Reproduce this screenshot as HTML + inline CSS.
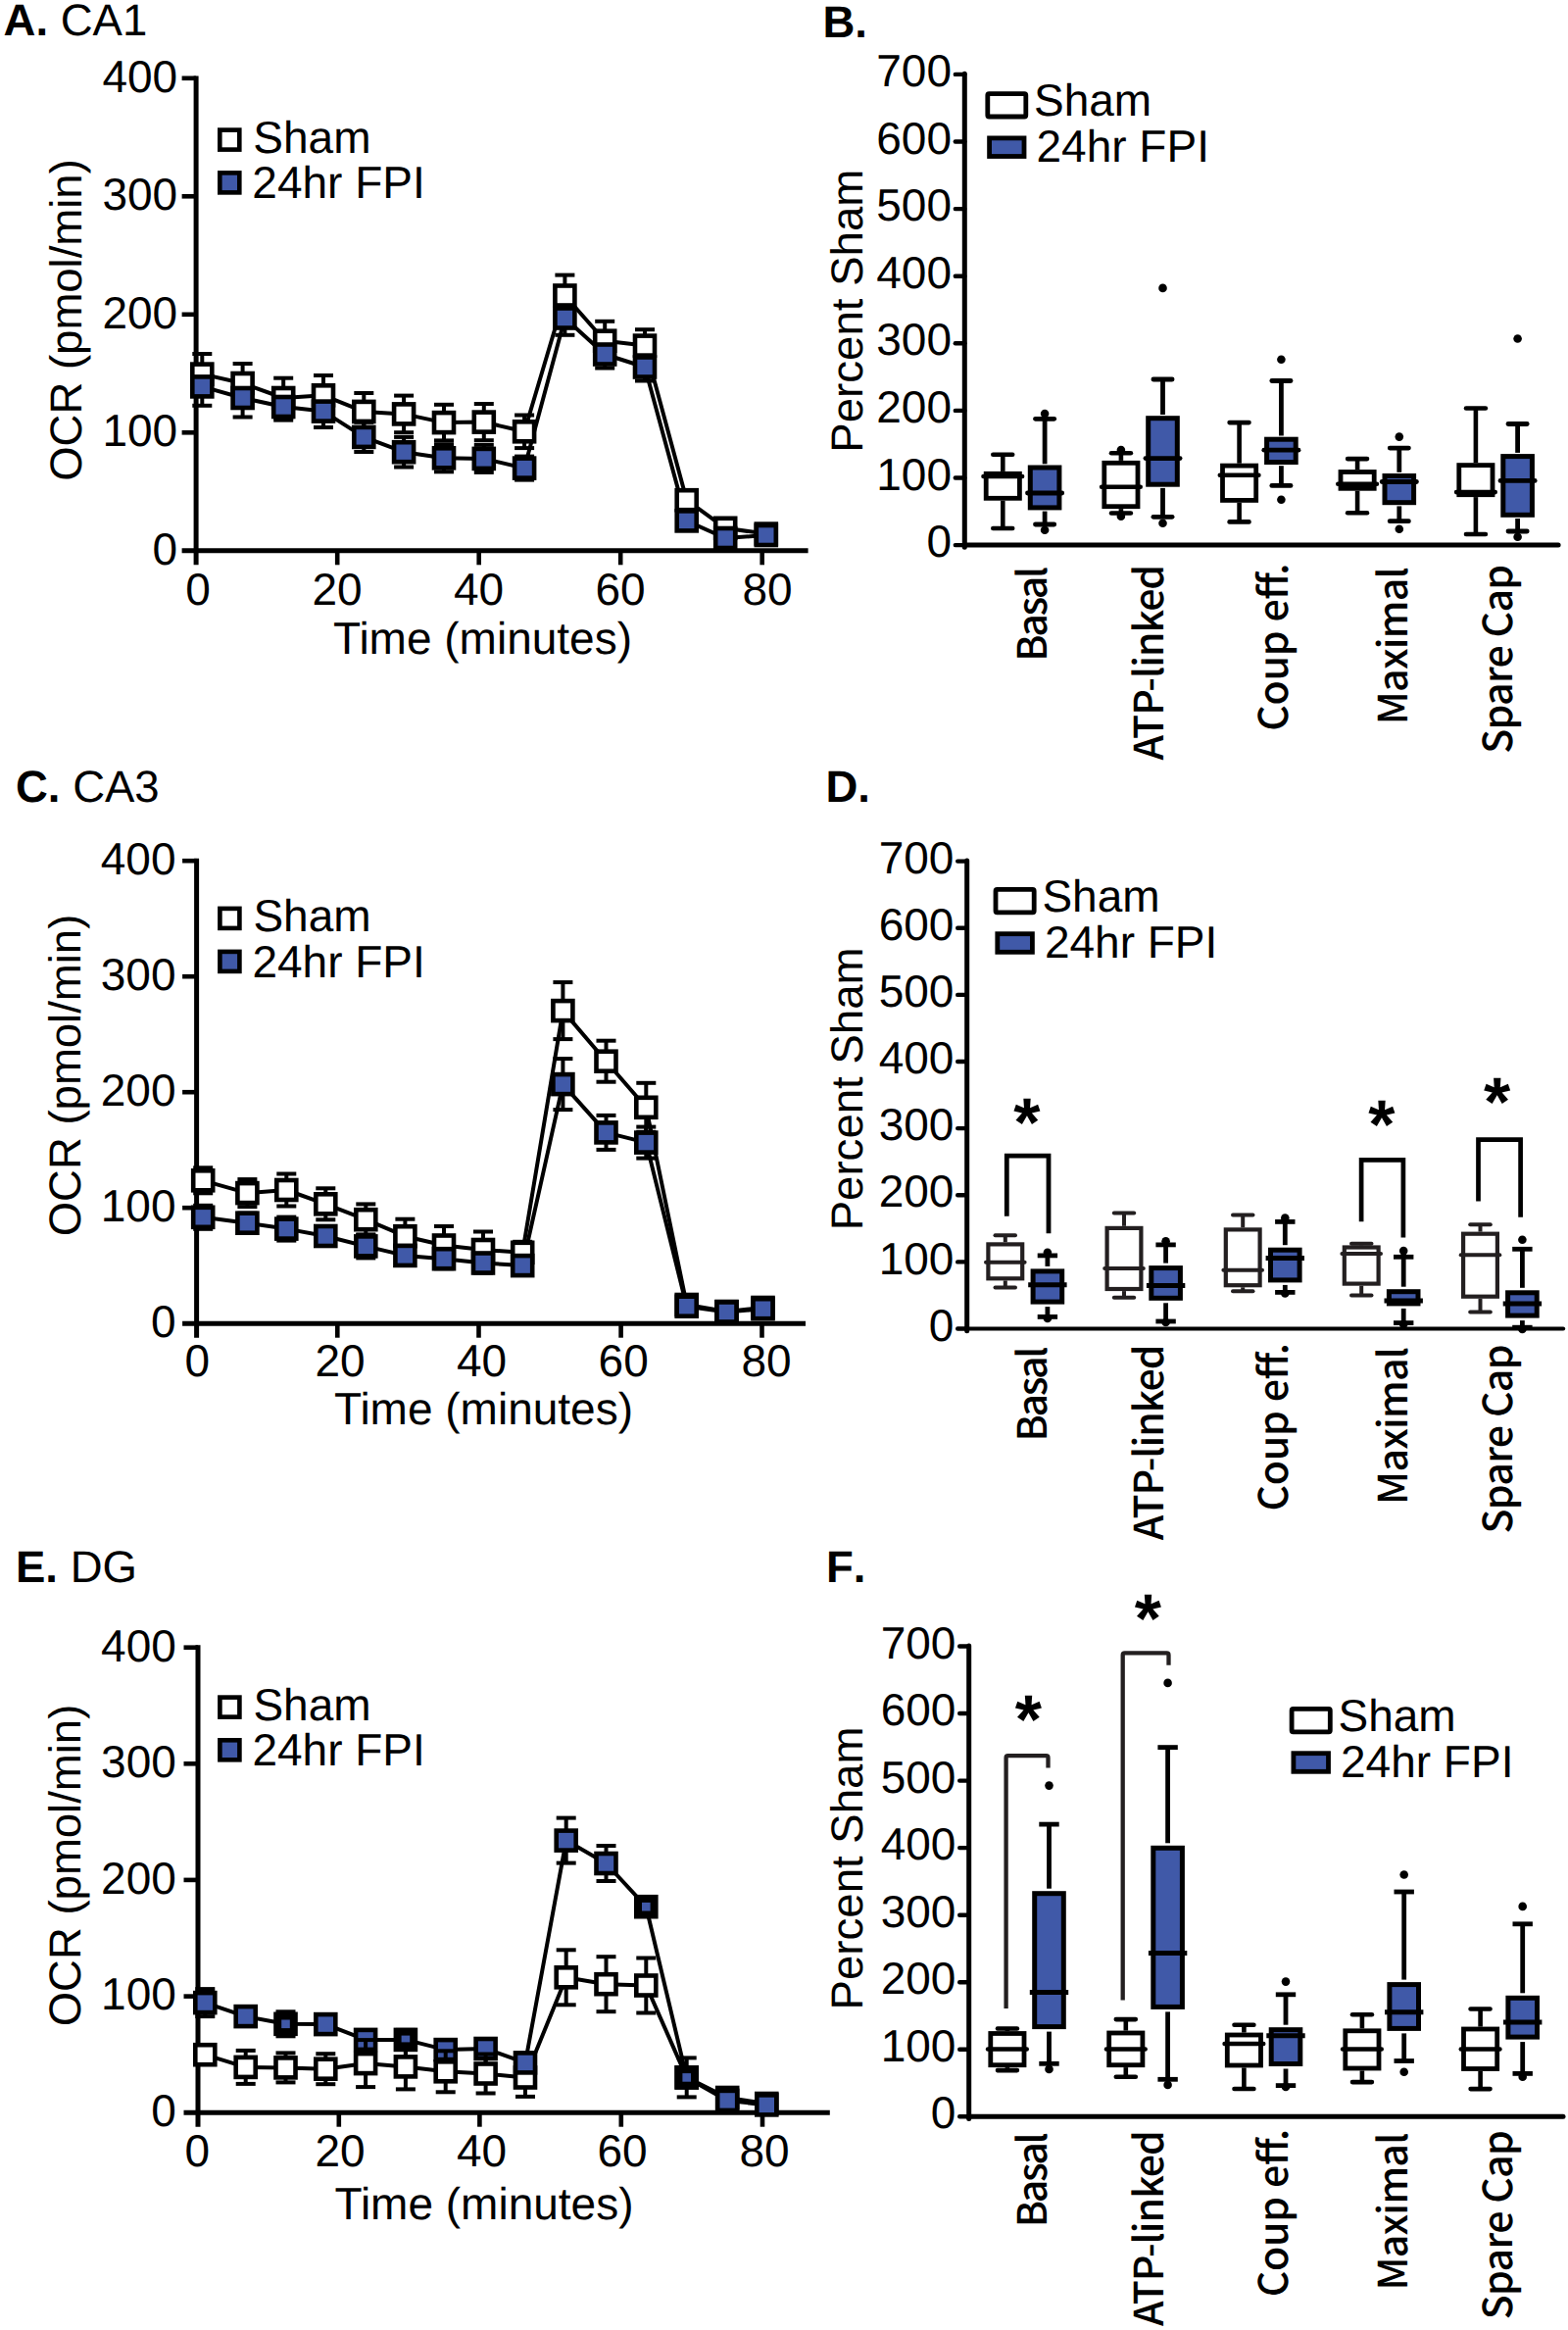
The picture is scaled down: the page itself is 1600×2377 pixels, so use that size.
<!DOCTYPE html>
<html lang="en">
<head>
<meta charset="utf-8">
<title>Figure: OCR time courses and percent-sham box plots for CA1, CA3 and DG</title>
<style>
html,body{margin:0;padding:0;background:#fff;}
svg{display:block;}
svg text{font-family:"Liberation Sans", sans-serif;fill:#000;text-rendering:geometricPrecision;}
svg text.lab{font-family:"Noto Sans CJK JP","Noto Sans CJK SC","Liberation Sans",sans-serif;font-weight:500;}
</style>
</head>
<body>
<svg width="1600" height="2377" viewBox="0 0 1600 2377" stroke="#000" fill="#000">
<rect x="0" y="0" width="1600" height="2377" fill="#fff" stroke="none"/>
<g stroke="#000">
<g id="panelA">
<text stroke="none" x="3.6" y="36.2" font-size="45.5"><tspan font-weight="bold">A.</tspan> CA1</text>
<text stroke="none" x="83.0" y="326.5" font-size="45.5" text-anchor="middle" transform="rotate(-90 83.0 326.5)">OCR (pmol/min)</text>
<text stroke="none" x="181.2" y="575.6" font-size="46" text-anchor="end">0</text>
<text stroke="none" x="181.2" y="455.1" font-size="46" text-anchor="end">100</text>
<text stroke="none" x="181.2" y="334.6" font-size="46" text-anchor="end">200</text>
<text stroke="none" x="181.2" y="214.1" font-size="46" text-anchor="end">300</text>
<text stroke="none" x="181.2" y="93.6" font-size="46" text-anchor="end">400</text>
<text stroke="none" x="202.1" y="617.1" font-size="46" text-anchor="middle">0</text>
<text stroke="none" x="344.0" y="617.1" font-size="46" text-anchor="middle">20</text>
<text stroke="none" x="488.6" y="617.1" font-size="46" text-anchor="middle">40</text>
<text stroke="none" x="633.1" y="617.1" font-size="46" text-anchor="middle">60</text>
<text stroke="none" x="783.1" y="617.1" font-size="46" text-anchor="middle">80</text>
<text stroke="none" x="492.5" y="667.4" font-size="46" text-anchor="middle">Time (minutes)</text>
<rect x="224.3" y="132.6" width="20" height="20" fill="#fff" stroke-width="4.6"/>
<text stroke="none" x="258.3" y="155.9" font-size="46">Sham</text>
<rect x="224.3" y="176.4" width="20" height="20" fill="#4059a8" stroke-width="4.6"/>
<text stroke="none" x="257.3" y="202.4" font-size="46">24hr FPI</text>
<line x1="200.1" y1="77.4" x2="200.1" y2="576.3" stroke-width="5"/>
<line x1="185.6" y1="441.3" x2="200.1" y2="441.3" stroke-width="4.6"/>
<line x1="185.6" y1="320.8" x2="200.1" y2="320.8" stroke-width="4.6"/>
<line x1="185.6" y1="200.3" x2="200.1" y2="200.3" stroke-width="4.6"/>
<line x1="185.6" y1="79.8" x2="200.1" y2="79.8" stroke-width="4.6"/>
<line x1="185.6" y1="561.8" x2="824.6" y2="561.8" stroke-width="5"/>
<line x1="344.2" y1="561.8" x2="344.2" y2="576.3" stroke-width="4.6"/>
<line x1="488.7" y1="561.8" x2="488.7" y2="576.3" stroke-width="4.6"/>
<line x1="633.2" y1="561.8" x2="633.2" y2="576.3" stroke-width="4.6"/>
<line x1="777.7" y1="561.8" x2="777.7" y2="576.3" stroke-width="4.6"/>
<line x1="206.3" y1="361.0" x2="206.3" y2="402.2" stroke-width="4"/>
<line x1="196.3" y1="361.0" x2="216.3" y2="361.0" stroke-width="4"/>
<line x1="196.3" y1="402.2" x2="216.3" y2="402.2" stroke-width="4"/>
<line x1="247.6" y1="371.0" x2="247.6" y2="411.0" stroke-width="4"/>
<line x1="237.6" y1="371.0" x2="257.6" y2="371.0" stroke-width="4"/>
<line x1="237.6" y1="411.0" x2="257.6" y2="411.0" stroke-width="4"/>
<line x1="289.2" y1="385.7" x2="289.2" y2="426.3" stroke-width="4"/>
<line x1="279.2" y1="385.7" x2="299.2" y2="385.7" stroke-width="4"/>
<line x1="279.2" y1="426.3" x2="299.2" y2="426.3" stroke-width="4"/>
<line x1="330.0" y1="383.0" x2="330.0" y2="423.6" stroke-width="4"/>
<line x1="320.0" y1="383.0" x2="340.0" y2="383.0" stroke-width="4"/>
<line x1="320.0" y1="423.6" x2="340.0" y2="423.6" stroke-width="4"/>
<line x1="371.3" y1="401.0" x2="371.3" y2="438.8" stroke-width="4"/>
<line x1="361.3" y1="401.0" x2="381.3" y2="401.0" stroke-width="4"/>
<line x1="361.3" y1="438.8" x2="381.3" y2="438.8" stroke-width="4"/>
<line x1="412.1" y1="403.6" x2="412.1" y2="441.2" stroke-width="4"/>
<line x1="402.1" y1="403.6" x2="422.1" y2="403.6" stroke-width="4"/>
<line x1="402.1" y1="441.2" x2="422.1" y2="441.2" stroke-width="4"/>
<line x1="453.0" y1="412.8" x2="453.0" y2="449.4" stroke-width="4"/>
<line x1="443.0" y1="412.8" x2="463.0" y2="412.8" stroke-width="4"/>
<line x1="443.0" y1="449.4" x2="463.0" y2="449.4" stroke-width="4"/>
<line x1="493.8" y1="412.0" x2="493.8" y2="449.2" stroke-width="4"/>
<line x1="483.8" y1="412.0" x2="503.8" y2="412.0" stroke-width="4"/>
<line x1="483.8" y1="449.2" x2="503.8" y2="449.2" stroke-width="4"/>
<line x1="535.1" y1="423.5" x2="535.1" y2="457.1" stroke-width="4"/>
<line x1="525.1" y1="423.5" x2="545.1" y2="423.5" stroke-width="4"/>
<line x1="525.1" y1="457.1" x2="545.1" y2="457.1" stroke-width="4"/>
<line x1="576.4" y1="280.6" x2="576.4" y2="322.4" stroke-width="4"/>
<line x1="566.4" y1="280.6" x2="586.4" y2="280.6" stroke-width="4"/>
<line x1="566.4" y1="322.4" x2="586.4" y2="322.4" stroke-width="4"/>
<line x1="617.2" y1="327.8" x2="617.2" y2="367.6" stroke-width="4"/>
<line x1="607.2" y1="327.8" x2="627.2" y2="327.8" stroke-width="4"/>
<line x1="607.2" y1="367.6" x2="627.2" y2="367.6" stroke-width="4"/>
<line x1="658.0" y1="336.2" x2="658.0" y2="369.0" stroke-width="4"/>
<line x1="648.0" y1="336.2" x2="668.0" y2="336.2" stroke-width="4"/>
<line x1="648.0" y1="369.0" x2="668.0" y2="369.0" stroke-width="4"/>
<line x1="700.7" y1="502.2" x2="700.7" y2="518.2" stroke-width="4"/>
<line x1="690.7" y1="502.2" x2="710.7" y2="502.2" stroke-width="4"/>
<line x1="690.7" y1="518.2" x2="710.7" y2="518.2" stroke-width="4"/>
<line x1="740.2" y1="530.8" x2="740.2" y2="546.8" stroke-width="4"/>
<line x1="730.2" y1="530.8" x2="750.2" y2="530.8" stroke-width="4"/>
<line x1="730.2" y1="546.8" x2="750.2" y2="546.8" stroke-width="4"/>
<line x1="781.8" y1="538.6" x2="781.8" y2="550.6" stroke-width="4"/>
<line x1="771.8" y1="538.6" x2="791.8" y2="538.6" stroke-width="4"/>
<line x1="771.8" y1="550.6" x2="791.8" y2="550.6" stroke-width="4"/>
<line x1="206.3" y1="375.0" x2="206.3" y2="413.8" stroke-width="4"/>
<line x1="196.3" y1="375.0" x2="216.3" y2="375.0" stroke-width="4"/>
<line x1="196.3" y1="413.8" x2="216.3" y2="413.8" stroke-width="4"/>
<line x1="247.6" y1="386.5" x2="247.6" y2="425.5" stroke-width="4"/>
<line x1="237.6" y1="386.5" x2="257.6" y2="386.5" stroke-width="4"/>
<line x1="237.6" y1="425.5" x2="257.6" y2="425.5" stroke-width="4"/>
<line x1="289.2" y1="401.4" x2="289.2" y2="428.6" stroke-width="4"/>
<line x1="279.2" y1="401.4" x2="299.2" y2="401.4" stroke-width="4"/>
<line x1="279.2" y1="428.6" x2="299.2" y2="428.6" stroke-width="4"/>
<line x1="330.0" y1="403.2" x2="330.0" y2="436.0" stroke-width="4"/>
<line x1="320.0" y1="403.2" x2="340.0" y2="403.2" stroke-width="4"/>
<line x1="320.0" y1="436.0" x2="340.0" y2="436.0" stroke-width="4"/>
<line x1="371.3" y1="430.8" x2="371.3" y2="461.0" stroke-width="4"/>
<line x1="361.3" y1="430.8" x2="381.3" y2="430.8" stroke-width="4"/>
<line x1="361.3" y1="461.0" x2="381.3" y2="461.0" stroke-width="4"/>
<line x1="412.1" y1="445.9" x2="412.1" y2="476.5" stroke-width="4"/>
<line x1="402.1" y1="445.9" x2="422.1" y2="445.9" stroke-width="4"/>
<line x1="402.1" y1="476.5" x2="422.1" y2="476.5" stroke-width="4"/>
<line x1="453.0" y1="453.3" x2="453.0" y2="481.3" stroke-width="4"/>
<line x1="443.0" y1="453.3" x2="463.0" y2="453.3" stroke-width="4"/>
<line x1="443.0" y1="481.3" x2="463.0" y2="481.3" stroke-width="4"/>
<line x1="493.8" y1="453.9" x2="493.8" y2="481.9" stroke-width="4"/>
<line x1="483.8" y1="453.9" x2="503.8" y2="453.9" stroke-width="4"/>
<line x1="483.8" y1="481.9" x2="503.8" y2="481.9" stroke-width="4"/>
<line x1="535.1" y1="465.6" x2="535.1" y2="489.6" stroke-width="4"/>
<line x1="525.1" y1="465.6" x2="545.1" y2="465.6" stroke-width="4"/>
<line x1="525.1" y1="489.6" x2="545.1" y2="489.6" stroke-width="4"/>
<line x1="576.4" y1="307.2" x2="576.4" y2="341.8" stroke-width="4"/>
<line x1="566.4" y1="307.2" x2="586.4" y2="307.2" stroke-width="4"/>
<line x1="566.4" y1="341.8" x2="586.4" y2="341.8" stroke-width="4"/>
<line x1="617.2" y1="347.5" x2="617.2" y2="375.5" stroke-width="4"/>
<line x1="607.2" y1="347.5" x2="627.2" y2="347.5" stroke-width="4"/>
<line x1="607.2" y1="375.5" x2="627.2" y2="375.5" stroke-width="4"/>
<line x1="658.0" y1="360.5" x2="658.0" y2="388.5" stroke-width="4"/>
<line x1="648.0" y1="360.5" x2="668.0" y2="360.5" stroke-width="4"/>
<line x1="648.0" y1="388.5" x2="668.0" y2="388.5" stroke-width="4"/>
<line x1="700.7" y1="523.4" x2="700.7" y2="539.4" stroke-width="4"/>
<line x1="690.7" y1="523.4" x2="710.7" y2="523.4" stroke-width="4"/>
<line x1="690.7" y1="539.4" x2="710.7" y2="539.4" stroke-width="4"/>
<line x1="740.2" y1="543.0" x2="740.2" y2="555.0" stroke-width="4"/>
<line x1="730.2" y1="543.0" x2="750.2" y2="543.0" stroke-width="4"/>
<line x1="730.2" y1="555.0" x2="750.2" y2="555.0" stroke-width="4"/>
<line x1="781.8" y1="540.0" x2="781.8" y2="552.0" stroke-width="4"/>
<line x1="771.8" y1="540.0" x2="791.8" y2="540.0" stroke-width="4"/>
<line x1="771.8" y1="552.0" x2="791.8" y2="552.0" stroke-width="4"/>
<polyline points="206.3,381.6 247.6,391.0 289.2,406.0 330.0,403.3 371.3,419.9 412.1,422.4 453.0,431.1 493.8,430.6 535.1,440.3 576.4,301.5 617.2,347.7 658.0,352.6 700.7,510.2 740.2,538.8 781.8,544.6" fill="none" stroke-width="4" stroke-linejoin="round"/>
<polyline points="206.3,394.4 247.6,406.0 289.2,415.0 330.0,419.6 371.3,445.9 412.1,461.2 453.0,467.3 493.8,467.9 535.1,477.6 576.4,324.5 617.2,361.5 658.0,374.5 700.7,531.4 740.2,549.0 781.8,546.0" fill="none" stroke-width="4" stroke-linejoin="round"/>
<rect x="196.3" y="371.6" width="20" height="20" fill="#fff" stroke-width="4.6"/>
<rect x="237.6" y="381.0" width="20" height="20" fill="#fff" stroke-width="4.6"/>
<rect x="279.2" y="396.0" width="20" height="20" fill="#fff" stroke-width="4.6"/>
<rect x="320.0" y="393.3" width="20" height="20" fill="#fff" stroke-width="4.6"/>
<rect x="361.3" y="409.9" width="20" height="20" fill="#fff" stroke-width="4.6"/>
<rect x="402.1" y="412.4" width="20" height="20" fill="#fff" stroke-width="4.6"/>
<rect x="443.0" y="421.1" width="20" height="20" fill="#fff" stroke-width="4.6"/>
<rect x="483.8" y="420.6" width="20" height="20" fill="#fff" stroke-width="4.6"/>
<rect x="525.1" y="430.3" width="20" height="20" fill="#fff" stroke-width="4.6"/>
<rect x="566.4" y="291.5" width="20" height="20" fill="#fff" stroke-width="4.6"/>
<rect x="607.2" y="337.7" width="20" height="20" fill="#fff" stroke-width="4.6"/>
<rect x="648.0" y="342.6" width="20" height="20" fill="#fff" stroke-width="4.6"/>
<rect x="690.7" y="500.2" width="20" height="20" fill="#fff" stroke-width="4.6"/>
<rect x="730.2" y="528.8" width="20" height="20" fill="#fff" stroke-width="4.6"/>
<rect x="771.8" y="534.6" width="20" height="20" fill="#fff" stroke-width="4.6"/>
<rect x="196.3" y="384.4" width="20" height="20" fill="#4059a8" stroke-width="4.6"/>
<rect x="237.6" y="396.0" width="20" height="20" fill="#4059a8" stroke-width="4.6"/>
<rect x="279.2" y="405.0" width="20" height="20" fill="#4059a8" stroke-width="4.6"/>
<rect x="320.0" y="409.6" width="20" height="20" fill="#4059a8" stroke-width="4.6"/>
<rect x="361.3" y="435.9" width="20" height="20" fill="#4059a8" stroke-width="4.6"/>
<rect x="402.1" y="451.2" width="20" height="20" fill="#4059a8" stroke-width="4.6"/>
<rect x="443.0" y="457.3" width="20" height="20" fill="#4059a8" stroke-width="4.6"/>
<rect x="483.8" y="457.9" width="20" height="20" fill="#4059a8" stroke-width="4.6"/>
<rect x="525.1" y="467.6" width="20" height="20" fill="#4059a8" stroke-width="4.6"/>
<rect x="566.4" y="314.5" width="20" height="20" fill="#4059a8" stroke-width="4.6"/>
<rect x="607.2" y="351.5" width="20" height="20" fill="#4059a8" stroke-width="4.6"/>
<rect x="648.0" y="364.5" width="20" height="20" fill="#4059a8" stroke-width="4.6"/>
<rect x="690.7" y="521.4" width="20" height="20" fill="#4059a8" stroke-width="4.6"/>
<rect x="730.2" y="539.0" width="20" height="20" fill="#4059a8" stroke-width="4.6"/>
<rect x="771.8" y="536.0" width="20" height="20" fill="#4059a8" stroke-width="4.6"/>
</g>
<g id="panelB">
<text stroke="none" x="839.5" y="37.6" font-size="45.5" font-weight="bold" style="font-kerning:none">B.</text>
<text stroke="none" x="879.7" y="317.2" font-size="45.6" text-anchor="middle" transform="rotate(-90 879.7 317.2)">Percent Sham</text>
<text stroke="none" x="971.0" y="568.2" font-size="46" text-anchor="end">0</text>
<text stroke="none" x="971.0" y="499.6" font-size="46" text-anchor="end">100</text>
<text stroke="none" x="971.0" y="431.0" font-size="46" text-anchor="end">200</text>
<text stroke="none" x="971.0" y="362.4" font-size="46" text-anchor="end">300</text>
<text stroke="none" x="971.0" y="293.8" font-size="46" text-anchor="end">400</text>
<text stroke="none" x="971.0" y="225.2" font-size="46" text-anchor="end">500</text>
<text stroke="none" x="971.0" y="156.6" font-size="46" text-anchor="end">600</text>
<text stroke="none" x="971.0" y="88.0" font-size="46" text-anchor="end">700</text>
<text stroke="none" x="1068.2" y="674.8" font-size="41" class="lab" transform="rotate(-90 1068.2 674.8)" textLength="97.0" lengthAdjust="spacing">Basal</text>
<text stroke="none" x="1186.8" y="775.6" font-size="41" class="lab" transform="rotate(-90 1186.8 775.6)" textLength="199.8" lengthAdjust="spacing">ATP-linked</text>
<text stroke="none" x="1314.2" y="745.8" font-size="41" class="lab" transform="rotate(-90 1314.2 745.8)" textLength="171.4" lengthAdjust="spacing">Coup eff.</text>
<text stroke="none" x="1436.2" y="739.2" font-size="41" class="lab" transform="rotate(-90 1436.2 739.2)" textLength="161.0" lengthAdjust="spacing">Maximal</text>
<text stroke="none" x="1543.2" y="768.8" font-size="41" class="lab" transform="rotate(-90 1543.2 768.8)" textLength="193.0" lengthAdjust="spacing">Spare Cap</text>
<rect x="1007.8" y="95.6" width="39.0" height="23.4" rx="1.5" fill="#fff" stroke-width="4.8"/>
<text stroke="none" x="1055.0" y="117.8" font-size="46">Sham</text>
<rect x="1009.6" y="140.9" width="35.4" height="18.6" fill="#4059a8" stroke-width="4.8"/>
<text stroke="none" x="1057.5" y="165.2" font-size="46">24hr FPI</text>
<line x1="1023.3" y1="463.8" x2="1023.3" y2="480.9" stroke-width="4.6"/>
<line x1="1023.3" y1="510.7" x2="1023.3" y2="539.0" stroke-width="4.6"/>
<line x1="1013.3" y1="463.8" x2="1033.2" y2="463.8" stroke-width="4.6" stroke-linecap="round"/>
<line x1="1013.3" y1="539.0" x2="1033.2" y2="539.0" stroke-width="4.6" stroke-linecap="round"/>
<rect x="1006.2" y="483.3" width="34.2" height="25.0" fill="#fff" stroke-width="4.8"/>
<line x1="1003.5" y1="486.0" x2="1043.1" y2="486.0" stroke-width="4.6" stroke-linecap="round"/>
<line x1="1066.1" y1="427.3" x2="1066.1" y2="473.3" stroke-width="4.8"/>
<line x1="1066.1" y1="521.6" x2="1066.1" y2="535.0" stroke-width="4.8"/>
<line x1="1056.5" y1="427.3" x2="1075.7" y2="427.3" stroke-width="4.8" stroke-linecap="round"/>
<line x1="1056.5" y1="535.0" x2="1075.7" y2="535.0" stroke-width="4.8" stroke-linecap="round"/>
<rect x="1051.3" y="477.0" width="29.6" height="40.9" fill="#4059a8" stroke-width="5.0"/>
<line x1="1048.5" y1="503.0" x2="1083.7" y2="503.0" stroke-width="4.8" stroke-linecap="round"/>
<circle cx="1066.1" cy="422.0" r="4.3" fill="#000" stroke="none"/>
<circle cx="1066.1" cy="540.8" r="4.3" fill="#000" stroke="none"/>
<line x1="1143.9" y1="462.2" x2="1143.9" y2="469.9" stroke-width="4.6"/>
<line x1="1143.9" y1="519.1" x2="1143.9" y2="523.5" stroke-width="4.6"/>
<line x1="1134.0" y1="462.2" x2="1153.9" y2="462.2" stroke-width="4.6" stroke-linecap="round"/>
<line x1="1134.0" y1="523.5" x2="1153.9" y2="523.5" stroke-width="4.6" stroke-linecap="round"/>
<rect x="1126.8" y="472.3" width="34.2" height="44.4" fill="#fff" stroke-width="4.8"/>
<line x1="1124.1" y1="496.7" x2="1163.7" y2="496.7" stroke-width="4.6" stroke-linecap="round"/>
<circle cx="1143.9" cy="459.0" r="4.3" fill="#000" stroke="none"/>
<circle cx="1143.9" cy="526.8" r="4.3" fill="#000" stroke="none"/>
<line x1="1186.5" y1="387.0" x2="1186.5" y2="423.0" stroke-width="4.8"/>
<line x1="1186.5" y1="497.9" x2="1186.5" y2="527.3" stroke-width="4.8"/>
<line x1="1176.9" y1="387.0" x2="1196.1" y2="387.0" stroke-width="4.8" stroke-linecap="round"/>
<line x1="1176.9" y1="527.3" x2="1196.1" y2="527.3" stroke-width="4.8" stroke-linecap="round"/>
<rect x="1171.7" y="426.7" width="29.6" height="67.5" fill="#4059a8" stroke-width="5.0"/>
<line x1="1168.9" y1="467.6" x2="1204.1" y2="467.6" stroke-width="4.8" stroke-linecap="round"/>
<circle cx="1186.5" cy="293.9" r="4.3" fill="#000" stroke="none"/>
<circle cx="1186.5" cy="533.7" r="4.3" fill="#000" stroke="none"/>
<line x1="1264.6" y1="431.1" x2="1264.6" y2="472.7" stroke-width="4.6"/>
<line x1="1264.6" y1="512.8" x2="1264.6" y2="532.4" stroke-width="4.6"/>
<line x1="1254.6" y1="431.1" x2="1274.5" y2="431.1" stroke-width="4.6" stroke-linecap="round"/>
<line x1="1254.6" y1="532.4" x2="1274.5" y2="532.4" stroke-width="4.6" stroke-linecap="round"/>
<rect x="1247.5" y="475.1" width="34.2" height="35.3" fill="#fff" stroke-width="4.8"/>
<line x1="1244.8" y1="484.7" x2="1284.4" y2="484.7" stroke-width="4.6" stroke-linecap="round"/>
<line x1="1307.4" y1="388.5" x2="1307.4" y2="444.5" stroke-width="4.8"/>
<line x1="1307.4" y1="475.2" x2="1307.4" y2="495.4" stroke-width="4.8"/>
<line x1="1297.8" y1="388.5" x2="1317.0" y2="388.5" stroke-width="4.8" stroke-linecap="round"/>
<line x1="1297.8" y1="495.4" x2="1317.0" y2="495.4" stroke-width="4.8" stroke-linecap="round"/>
<rect x="1292.6" y="448.2" width="29.6" height="23.3" fill="#4059a8" stroke-width="5.0"/>
<line x1="1289.8" y1="459.2" x2="1325.0" y2="459.2" stroke-width="4.8" stroke-linecap="round"/>
<circle cx="1307.4" cy="366.8" r="4.3" fill="#000" stroke="none"/>
<circle cx="1307.4" cy="509.7" r="4.3" fill="#000" stroke="none"/>
<line x1="1385.1" y1="468.1" x2="1385.1" y2="479.1" stroke-width="4.6"/>
<line x1="1385.1" y1="500.7" x2="1385.1" y2="523.2" stroke-width="4.6"/>
<line x1="1375.1" y1="468.1" x2="1395.0" y2="468.1" stroke-width="4.6" stroke-linecap="round"/>
<line x1="1375.1" y1="523.2" x2="1395.0" y2="523.2" stroke-width="4.6" stroke-linecap="round"/>
<rect x="1368.0" y="481.5" width="34.2" height="16.8" fill="#fff" stroke-width="4.8"/>
<line x1="1365.3" y1="493.8" x2="1404.9" y2="493.8" stroke-width="4.6" stroke-linecap="round"/>
<line x1="1427.8" y1="457.1" x2="1427.8" y2="481.8" stroke-width="4.8"/>
<line x1="1427.8" y1="516.4" x2="1427.8" y2="531.7" stroke-width="4.8"/>
<line x1="1418.2" y1="457.1" x2="1437.4" y2="457.1" stroke-width="4.8" stroke-linecap="round"/>
<line x1="1418.2" y1="531.7" x2="1437.4" y2="531.7" stroke-width="4.8" stroke-linecap="round"/>
<rect x="1413.0" y="485.5" width="29.6" height="27.2" fill="#4059a8" stroke-width="5.0"/>
<line x1="1410.2" y1="491.5" x2="1445.4" y2="491.5" stroke-width="4.8" stroke-linecap="round"/>
<circle cx="1427.8" cy="445.6" r="4.3" fill="#000" stroke="none"/>
<circle cx="1427.8" cy="539.7" r="4.3" fill="#000" stroke="none"/>
<line x1="1505.9" y1="416.5" x2="1505.9" y2="472.2" stroke-width="4.6"/>
<line x1="1505.9" y1="507.1" x2="1505.9" y2="545.0" stroke-width="4.6"/>
<line x1="1496.0" y1="416.5" x2="1515.9" y2="416.5" stroke-width="4.6" stroke-linecap="round"/>
<line x1="1496.0" y1="545.0" x2="1515.9" y2="545.0" stroke-width="4.6" stroke-linecap="round"/>
<rect x="1488.8" y="474.6" width="34.2" height="30.1" fill="#fff" stroke-width="4.8"/>
<line x1="1486.1" y1="502.1" x2="1525.7" y2="502.1" stroke-width="4.6" stroke-linecap="round"/>
<line x1="1548.6" y1="432.5" x2="1548.6" y2="461.9" stroke-width="4.8"/>
<line x1="1548.6" y1="529.0" x2="1548.6" y2="542.0" stroke-width="4.8"/>
<line x1="1539.0" y1="432.5" x2="1558.2" y2="432.5" stroke-width="4.8" stroke-linecap="round"/>
<line x1="1539.0" y1="542.0" x2="1558.2" y2="542.0" stroke-width="4.8" stroke-linecap="round"/>
<rect x="1533.8" y="465.6" width="29.6" height="59.7" fill="#4059a8" stroke-width="5.0"/>
<line x1="1531.0" y1="490.4" x2="1566.2" y2="490.4" stroke-width="4.8" stroke-linecap="round"/>
<circle cx="1548.6" cy="345.5" r="4.3" fill="#000" stroke="none"/>
<circle cx="1548.6" cy="547.8" r="4.3" fill="#000" stroke="none"/>
<line x1="984.3" y1="75.3" x2="984.3" y2="558.3" stroke-width="5" stroke-linecap="round"/>
<line x1="974.8" y1="556.1" x2="984.3" y2="556.1" stroke-width="4.4" stroke-linecap="round"/>
<line x1="974.8" y1="487.5" x2="984.3" y2="487.5" stroke-width="4.4" stroke-linecap="round"/>
<line x1="974.8" y1="418.9" x2="984.3" y2="418.9" stroke-width="4.4" stroke-linecap="round"/>
<line x1="974.8" y1="350.3" x2="984.3" y2="350.3" stroke-width="4.4" stroke-linecap="round"/>
<line x1="974.8" y1="281.7" x2="984.3" y2="281.7" stroke-width="4.4" stroke-linecap="round"/>
<line x1="974.8" y1="213.1" x2="984.3" y2="213.1" stroke-width="4.4" stroke-linecap="round"/>
<line x1="974.8" y1="144.5" x2="984.3" y2="144.5" stroke-width="4.4" stroke-linecap="round"/>
<line x1="974.8" y1="75.9" x2="984.3" y2="75.9" stroke-width="4.4" stroke-linecap="round"/>
<line x1="983.3" y1="556.1" x2="1590.1" y2="556.1" stroke-width="5" stroke-linecap="round"/>
</g>
<g id="panelC">
<text stroke="none" x="16.0" y="818.0" font-size="45.5"><tspan font-weight="bold">C.</tspan> CA3</text>
<text stroke="none" x="81.7" y="1097.0" font-size="45.5" text-anchor="middle" transform="rotate(-90 81.7 1097.0)">OCR (pmol/min)</text>
<text stroke="none" x="179.5" y="1363.8" font-size="46" text-anchor="end">0</text>
<text stroke="none" x="179.5" y="1245.8" font-size="46" text-anchor="end">100</text>
<text stroke="none" x="179.5" y="1127.8" font-size="46" text-anchor="end">200</text>
<text stroke="none" x="179.5" y="1009.8" font-size="46" text-anchor="end">300</text>
<text stroke="none" x="179.5" y="891.8" font-size="46" text-anchor="end">400</text>
<text stroke="none" x="201.4" y="1404.4" font-size="46" text-anchor="middle">0</text>
<text stroke="none" x="347.1" y="1404.4" font-size="46" text-anchor="middle">20</text>
<text stroke="none" x="491.6" y="1404.4" font-size="46" text-anchor="middle">40</text>
<text stroke="none" x="636.2" y="1404.4" font-size="46" text-anchor="middle">60</text>
<text stroke="none" x="782.0" y="1404.4" font-size="46" text-anchor="middle">80</text>
<text stroke="none" x="493.5" y="1452.5" font-size="46" text-anchor="middle">Time (minutes)</text>
<rect x="224.4" y="926.9" width="20" height="20" fill="#fff" stroke-width="4.6"/>
<text stroke="none" x="258.4" y="950.2" font-size="46">Sham</text>
<rect x="224.4" y="970.9" width="20" height="20" fill="#4059a8" stroke-width="4.6"/>
<text stroke="none" x="257.4" y="996.9" font-size="46">24hr FPI</text>
<line x1="200.6" y1="875.8" x2="200.6" y2="1364.7" stroke-width="5"/>
<line x1="186.1" y1="1232.2" x2="200.6" y2="1232.2" stroke-width="4.6"/>
<line x1="186.1" y1="1114.2" x2="200.6" y2="1114.2" stroke-width="4.6"/>
<line x1="186.1" y1="996.2" x2="200.6" y2="996.2" stroke-width="4.6"/>
<line x1="186.1" y1="878.2" x2="200.6" y2="878.2" stroke-width="4.6"/>
<line x1="186.1" y1="1350.2" x2="822.0" y2="1350.2" stroke-width="5"/>
<line x1="344.3" y1="1350.2" x2="344.3" y2="1364.7" stroke-width="4.6"/>
<line x1="488.5" y1="1350.2" x2="488.5" y2="1364.7" stroke-width="4.6"/>
<line x1="633.6" y1="1350.2" x2="633.6" y2="1364.7" stroke-width="4.6"/>
<line x1="777.5" y1="1350.2" x2="777.5" y2="1364.7" stroke-width="4.6"/>
<line x1="207.2" y1="1191.3" x2="207.2" y2="1217.3" stroke-width="4"/>
<line x1="197.2" y1="1191.3" x2="217.2" y2="1191.3" stroke-width="4"/>
<line x1="197.2" y1="1217.3" x2="217.2" y2="1217.3" stroke-width="4"/>
<line x1="252.4" y1="1203.1" x2="252.4" y2="1231.1" stroke-width="4"/>
<line x1="242.4" y1="1203.1" x2="262.4" y2="1203.1" stroke-width="4"/>
<line x1="242.4" y1="1231.1" x2="262.4" y2="1231.1" stroke-width="4"/>
<line x1="292.3" y1="1197.5" x2="292.3" y2="1230.5" stroke-width="4"/>
<line x1="282.3" y1="1197.5" x2="302.3" y2="1197.5" stroke-width="4"/>
<line x1="282.3" y1="1230.5" x2="302.3" y2="1230.5" stroke-width="4"/>
<line x1="332.3" y1="1212.3" x2="332.3" y2="1244.3" stroke-width="4"/>
<line x1="322.3" y1="1212.3" x2="342.3" y2="1212.3" stroke-width="4"/>
<line x1="322.3" y1="1244.3" x2="342.3" y2="1244.3" stroke-width="4"/>
<line x1="373.3" y1="1228.4" x2="373.3" y2="1260.0" stroke-width="4"/>
<line x1="363.3" y1="1228.4" x2="383.3" y2="1228.4" stroke-width="4"/>
<line x1="363.3" y1="1260.0" x2="383.3" y2="1260.0" stroke-width="4"/>
<line x1="413.4" y1="1243.7" x2="413.4" y2="1278.7" stroke-width="4"/>
<line x1="403.4" y1="1243.7" x2="423.4" y2="1243.7" stroke-width="4"/>
<line x1="403.4" y1="1278.7" x2="423.4" y2="1278.7" stroke-width="4"/>
<line x1="453.0" y1="1251.0" x2="453.0" y2="1290.0" stroke-width="4"/>
<line x1="443.0" y1="1251.0" x2="463.0" y2="1251.0" stroke-width="4"/>
<line x1="443.0" y1="1290.0" x2="463.0" y2="1290.0" stroke-width="4"/>
<line x1="493.0" y1="1256.5" x2="493.0" y2="1293.5" stroke-width="4"/>
<line x1="483.0" y1="1256.5" x2="503.0" y2="1256.5" stroke-width="4"/>
<line x1="483.0" y1="1293.5" x2="503.0" y2="1293.5" stroke-width="4"/>
<line x1="533.2" y1="1266.8" x2="533.2" y2="1288.8" stroke-width="4"/>
<line x1="523.2" y1="1266.8" x2="543.2" y2="1266.8" stroke-width="4"/>
<line x1="523.2" y1="1288.8" x2="543.2" y2="1288.8" stroke-width="4"/>
<line x1="574.4" y1="1002.1" x2="574.4" y2="1060.1" stroke-width="4"/>
<line x1="564.4" y1="1002.1" x2="584.4" y2="1002.1" stroke-width="4"/>
<line x1="564.4" y1="1060.1" x2="584.4" y2="1060.1" stroke-width="4"/>
<line x1="618.5" y1="1061.7" x2="618.5" y2="1103.7" stroke-width="4"/>
<line x1="608.5" y1="1061.7" x2="628.5" y2="1061.7" stroke-width="4"/>
<line x1="608.5" y1="1103.7" x2="628.5" y2="1103.7" stroke-width="4"/>
<line x1="659.3" y1="1104.8" x2="659.3" y2="1154.8" stroke-width="4"/>
<line x1="649.3" y1="1104.8" x2="669.3" y2="1104.8" stroke-width="4"/>
<line x1="649.3" y1="1154.8" x2="669.3" y2="1154.8" stroke-width="4"/>
<line x1="700.7" y1="1325.0" x2="700.7" y2="1337.0" stroke-width="4"/>
<line x1="690.7" y1="1325.0" x2="710.7" y2="1325.0" stroke-width="4"/>
<line x1="690.7" y1="1337.0" x2="710.7" y2="1337.0" stroke-width="4"/>
<line x1="741.5" y1="1333.0" x2="741.5" y2="1343.0" stroke-width="4"/>
<line x1="731.5" y1="1333.0" x2="751.5" y2="1333.0" stroke-width="4"/>
<line x1="731.5" y1="1343.0" x2="751.5" y2="1343.0" stroke-width="4"/>
<line x1="778.5" y1="1329.0" x2="778.5" y2="1339.0" stroke-width="4"/>
<line x1="768.5" y1="1329.0" x2="788.5" y2="1329.0" stroke-width="4"/>
<line x1="768.5" y1="1339.0" x2="788.5" y2="1339.0" stroke-width="4"/>
<line x1="207.2" y1="1229.8" x2="207.2" y2="1253.8" stroke-width="4"/>
<line x1="197.2" y1="1229.8" x2="217.2" y2="1229.8" stroke-width="4"/>
<line x1="197.2" y1="1253.8" x2="217.2" y2="1253.8" stroke-width="4"/>
<line x1="252.4" y1="1237.7" x2="252.4" y2="1257.7" stroke-width="4"/>
<line x1="242.4" y1="1237.7" x2="262.4" y2="1237.7" stroke-width="4"/>
<line x1="242.4" y1="1257.7" x2="262.4" y2="1257.7" stroke-width="4"/>
<line x1="292.3" y1="1241.6" x2="292.3" y2="1265.6" stroke-width="4"/>
<line x1="282.3" y1="1241.6" x2="302.3" y2="1241.6" stroke-width="4"/>
<line x1="282.3" y1="1265.6" x2="302.3" y2="1265.6" stroke-width="4"/>
<line x1="332.3" y1="1251.0" x2="332.3" y2="1271.0" stroke-width="4"/>
<line x1="322.3" y1="1251.0" x2="342.3" y2="1251.0" stroke-width="4"/>
<line x1="322.3" y1="1271.0" x2="342.3" y2="1271.0" stroke-width="4"/>
<line x1="373.3" y1="1259.4" x2="373.3" y2="1283.4" stroke-width="4"/>
<line x1="363.3" y1="1259.4" x2="383.3" y2="1259.4" stroke-width="4"/>
<line x1="363.3" y1="1283.4" x2="383.3" y2="1283.4" stroke-width="4"/>
<line x1="413.4" y1="1270.9" x2="413.4" y2="1290.9" stroke-width="4"/>
<line x1="403.4" y1="1270.9" x2="423.4" y2="1270.9" stroke-width="4"/>
<line x1="403.4" y1="1290.9" x2="423.4" y2="1290.9" stroke-width="4"/>
<line x1="453.0" y1="1274.2" x2="453.0" y2="1294.2" stroke-width="4"/>
<line x1="443.0" y1="1274.2" x2="463.0" y2="1274.2" stroke-width="4"/>
<line x1="443.0" y1="1294.2" x2="463.0" y2="1294.2" stroke-width="4"/>
<line x1="493.0" y1="1278.5" x2="493.0" y2="1298.5" stroke-width="4"/>
<line x1="483.0" y1="1278.5" x2="503.0" y2="1278.5" stroke-width="4"/>
<line x1="483.0" y1="1298.5" x2="503.0" y2="1298.5" stroke-width="4"/>
<line x1="533.2" y1="1283.1" x2="533.2" y2="1299.1" stroke-width="4"/>
<line x1="523.2" y1="1283.1" x2="543.2" y2="1283.1" stroke-width="4"/>
<line x1="523.2" y1="1299.1" x2="543.2" y2="1299.1" stroke-width="4"/>
<line x1="574.4" y1="1080.1" x2="574.4" y2="1132.1" stroke-width="4"/>
<line x1="564.4" y1="1080.1" x2="584.4" y2="1080.1" stroke-width="4"/>
<line x1="564.4" y1="1132.1" x2="584.4" y2="1132.1" stroke-width="4"/>
<line x1="618.5" y1="1137.9" x2="618.5" y2="1172.9" stroke-width="4"/>
<line x1="608.5" y1="1137.9" x2="628.5" y2="1137.9" stroke-width="4"/>
<line x1="608.5" y1="1172.9" x2="628.5" y2="1172.9" stroke-width="4"/>
<line x1="659.3" y1="1149.6" x2="659.3" y2="1181.6" stroke-width="4"/>
<line x1="649.3" y1="1149.6" x2="669.3" y2="1149.6" stroke-width="4"/>
<line x1="649.3" y1="1181.6" x2="669.3" y2="1181.6" stroke-width="4"/>
<line x1="700.7" y1="1327.7" x2="700.7" y2="1337.7" stroke-width="4"/>
<line x1="690.7" y1="1327.7" x2="710.7" y2="1327.7" stroke-width="4"/>
<line x1="690.7" y1="1337.7" x2="710.7" y2="1337.7" stroke-width="4"/>
<line x1="741.5" y1="1334.5" x2="741.5" y2="1342.5" stroke-width="4"/>
<line x1="731.5" y1="1334.5" x2="751.5" y2="1334.5" stroke-width="4"/>
<line x1="731.5" y1="1342.5" x2="751.5" y2="1342.5" stroke-width="4"/>
<line x1="778.5" y1="1327.2" x2="778.5" y2="1343.2" stroke-width="4"/>
<line x1="768.5" y1="1327.2" x2="788.5" y2="1327.2" stroke-width="4"/>
<line x1="768.5" y1="1343.2" x2="788.5" y2="1343.2" stroke-width="4"/>
<polyline points="207.2,1204.3 252.4,1217.1 292.3,1214.0 332.3,1228.3 373.3,1244.2 413.4,1261.2 453.0,1270.5 493.0,1275.0 533.2,1277.8 574.4,1031.1 618.5,1082.7 659.3,1129.8 700.7,1331.0 741.5,1338.0 778.5,1334.0" fill="none" stroke-width="4" stroke-linejoin="round"/>
<polyline points="207.2,1241.8 252.4,1247.7 292.3,1253.6 332.3,1261.0 373.3,1271.4 413.4,1280.9 453.0,1284.2 493.0,1288.5 533.2,1291.1 574.4,1106.1 618.5,1155.4 659.3,1165.6 700.7,1332.7 741.5,1338.5 778.5,1335.2" fill="none" stroke-width="4" stroke-linejoin="round"/>
<rect x="197.2" y="1194.3" width="20" height="20" fill="#fff" stroke-width="4.6"/>
<rect x="242.4" y="1207.1" width="20" height="20" fill="#fff" stroke-width="4.6"/>
<rect x="282.3" y="1204.0" width="20" height="20" fill="#fff" stroke-width="4.6"/>
<rect x="322.3" y="1218.3" width="20" height="20" fill="#fff" stroke-width="4.6"/>
<rect x="363.3" y="1234.2" width="20" height="20" fill="#fff" stroke-width="4.6"/>
<rect x="403.4" y="1251.2" width="20" height="20" fill="#fff" stroke-width="4.6"/>
<rect x="443.0" y="1260.5" width="20" height="20" fill="#fff" stroke-width="4.6"/>
<rect x="483.0" y="1265.0" width="20" height="20" fill="#fff" stroke-width="4.6"/>
<rect x="523.2" y="1267.8" width="20" height="20" fill="#fff" stroke-width="4.6"/>
<rect x="564.4" y="1021.1" width="20" height="20" fill="#fff" stroke-width="4.6"/>
<rect x="608.5" y="1072.7" width="20" height="20" fill="#fff" stroke-width="4.6"/>
<rect x="649.3" y="1119.8" width="20" height="20" fill="#fff" stroke-width="4.6"/>
<rect x="690.7" y="1321.0" width="20" height="20" fill="#fff" stroke-width="4.6"/>
<rect x="731.5" y="1328.0" width="20" height="20" fill="#fff" stroke-width="4.6"/>
<rect x="768.5" y="1324.0" width="20" height="20" fill="#fff" stroke-width="4.6"/>
<rect x="197.2" y="1231.8" width="20" height="20" fill="#4059a8" stroke-width="4.6"/>
<rect x="242.4" y="1237.7" width="20" height="20" fill="#4059a8" stroke-width="4.6"/>
<rect x="282.3" y="1243.6" width="20" height="20" fill="#4059a8" stroke-width="4.6"/>
<rect x="322.3" y="1251.0" width="20" height="20" fill="#4059a8" stroke-width="4.6"/>
<rect x="363.3" y="1261.4" width="20" height="20" fill="#4059a8" stroke-width="4.6"/>
<rect x="403.4" y="1270.9" width="20" height="20" fill="#4059a8" stroke-width="4.6"/>
<rect x="443.0" y="1274.2" width="20" height="20" fill="#4059a8" stroke-width="4.6"/>
<rect x="483.0" y="1278.5" width="20" height="20" fill="#4059a8" stroke-width="4.6"/>
<rect x="523.2" y="1281.1" width="20" height="20" fill="#4059a8" stroke-width="4.6"/>
<rect x="564.4" y="1096.1" width="20" height="20" fill="#4059a8" stroke-width="4.6"/>
<rect x="608.5" y="1145.4" width="20" height="20" fill="#4059a8" stroke-width="4.6"/>
<rect x="649.3" y="1155.6" width="20" height="20" fill="#4059a8" stroke-width="4.6"/>
<rect x="690.7" y="1322.7" width="20" height="20" fill="#4059a8" stroke-width="4.6"/>
<rect x="731.5" y="1328.5" width="20" height="20" fill="#4059a8" stroke-width="4.6"/>
<rect x="768.5" y="1325.2" width="20" height="20" fill="#4059a8" stroke-width="4.6"/>
</g>
<g id="panelD">
<text stroke="none" x="842.4" y="818.0" font-size="45.5" font-weight="bold" style="font-kerning:none">D.</text>
<text stroke="none" x="879.7" y="1110.9" font-size="45.6" text-anchor="middle" transform="rotate(-90 879.7 1110.9)">Percent Sham</text>
<text stroke="none" x="973.4" y="1367.6" font-size="46" text-anchor="end">0</text>
<text stroke="none" x="973.4" y="1299.5" font-size="46" text-anchor="end">100</text>
<text stroke="none" x="973.4" y="1231.3" font-size="46" text-anchor="end">200</text>
<text stroke="none" x="973.4" y="1163.2" font-size="46" text-anchor="end">300</text>
<text stroke="none" x="973.4" y="1095.1" font-size="46" text-anchor="end">400</text>
<text stroke="none" x="973.4" y="1027.0" font-size="46" text-anchor="end">500</text>
<text stroke="none" x="973.4" y="958.8" font-size="46" text-anchor="end">600</text>
<text stroke="none" x="973.4" y="890.7" font-size="46" text-anchor="end">700</text>
<text stroke="none" x="1068.2" y="1470.5" font-size="41" class="lab" transform="rotate(-90 1068.2 1470.5)" textLength="97.0" lengthAdjust="spacing">Basal</text>
<text stroke="none" x="1186.8" y="1571.3" font-size="41" class="lab" transform="rotate(-90 1186.8 1571.3)" textLength="199.8" lengthAdjust="spacing">ATP-linked</text>
<text stroke="none" x="1314.2" y="1541.5" font-size="41" class="lab" transform="rotate(-90 1314.2 1541.5)" textLength="171.4" lengthAdjust="spacing">Coup eff.</text>
<text stroke="none" x="1436.2" y="1534.9" font-size="41" class="lab" transform="rotate(-90 1436.2 1534.9)" textLength="161.0" lengthAdjust="spacing">Maximal</text>
<text stroke="none" x="1543.2" y="1564.5" font-size="41" class="lab" transform="rotate(-90 1543.2 1564.5)" textLength="193.0" lengthAdjust="spacing">Spare Cap</text>
<rect x="1016.0" y="907.4" width="39.2" height="23.4" rx="1.5" fill="#fff" stroke-width="4.8"/>
<text stroke="none" x="1063.4" y="929.6" font-size="46">Sham</text>
<rect x="1017.8" y="952.7" width="35.6" height="18.6" fill="#4059a8" stroke-width="4.8"/>
<text stroke="none" x="1065.9" y="977.0" font-size="46">24hr FPI</text>
<line x1="1025.8" y1="1260.2" x2="1025.8" y2="1267.3" stroke-width="4.0" stroke="#231f20"/>
<line x1="1025.8" y1="1306.4" x2="1025.8" y2="1313.5" stroke-width="4.0" stroke="#231f20"/>
<line x1="1015.5" y1="1260.2" x2="1036.0" y2="1260.2" stroke-width="4.0" stroke-linecap="round" stroke="#231f20"/>
<line x1="1015.5" y1="1313.5" x2="1036.0" y2="1313.5" stroke-width="4.0" stroke-linecap="round" stroke="#231f20"/>
<rect x="1008.4" y="1269.4" width="34.8" height="34.9" fill="#fff" stroke-width="4.2" stroke="#231f20"/>
<line x1="1006.0" y1="1287.8" x2="1045.6" y2="1287.8" stroke-width="4.0" stroke-linecap="round" stroke="#231f20"/>
<line x1="1068.9" y1="1280.9" x2="1068.9" y2="1291.9" stroke-width="4.8"/>
<line x1="1068.9" y1="1333.1" x2="1068.9" y2="1343.4" stroke-width="4.8"/>
<line x1="1058.7" y1="1280.9" x2="1079.1" y2="1280.9" stroke-width="4.8"/>
<line x1="1058.7" y1="1343.4" x2="1079.1" y2="1343.4" stroke-width="4.8"/>
<rect x="1054.1" y="1296.9" width="29.6" height="31.2" fill="#4059a8" stroke-width="5.0"/>
<line x1="1049.2" y1="1310.7" x2="1088.6" y2="1310.7" stroke-width="5.0"/>
<circle cx="1068.9" cy="1277.8" r="4.3" fill="#000" stroke="none"/>
<circle cx="1068.9" cy="1345.0" r="4.3" fill="#000" stroke="none"/>
<line x1="1147.0" y1="1237.5" x2="1147.0" y2="1250.8" stroke-width="4.0" stroke="#231f20"/>
<line x1="1147.0" y1="1317.1" x2="1147.0" y2="1323.7" stroke-width="4.0" stroke="#231f20"/>
<line x1="1136.8" y1="1237.5" x2="1157.2" y2="1237.5" stroke-width="4.0" stroke-linecap="round" stroke="#231f20"/>
<line x1="1136.8" y1="1323.7" x2="1157.2" y2="1323.7" stroke-width="4.0" stroke-linecap="round" stroke="#231f20"/>
<rect x="1129.6" y="1252.9" width="34.8" height="62.1" fill="#fff" stroke-width="4.2" stroke="#231f20"/>
<line x1="1127.2" y1="1294.1" x2="1166.8" y2="1294.1" stroke-width="4.0" stroke-linecap="round" stroke="#231f20"/>
<line x1="1189.6" y1="1269.9" x2="1189.6" y2="1288.6" stroke-width="4.8"/>
<line x1="1189.6" y1="1329.3" x2="1189.6" y2="1348.0" stroke-width="4.8"/>
<line x1="1179.4" y1="1269.9" x2="1199.8" y2="1269.9" stroke-width="4.8"/>
<line x1="1179.4" y1="1348.0" x2="1199.8" y2="1348.0" stroke-width="4.8"/>
<rect x="1174.8" y="1293.6" width="29.6" height="30.7" fill="#4059a8" stroke-width="5.0"/>
<line x1="1169.9" y1="1311.5" x2="1209.3" y2="1311.5" stroke-width="5.0"/>
<circle cx="1189.6" cy="1266.3" r="4.3" fill="#000" stroke="none"/>
<circle cx="1189.6" cy="1349.0" r="4.3" fill="#000" stroke="none"/>
<line x1="1268.2" y1="1239.5" x2="1268.2" y2="1252.3" stroke-width="4.0" stroke="#231f20"/>
<line x1="1268.2" y1="1313.3" x2="1268.2" y2="1317.3" stroke-width="4.0" stroke="#231f20"/>
<line x1="1258.0" y1="1239.5" x2="1278.5" y2="1239.5" stroke-width="4.0" stroke-linecap="round" stroke="#231f20"/>
<line x1="1258.0" y1="1317.3" x2="1278.5" y2="1317.3" stroke-width="4.0" stroke-linecap="round" stroke="#231f20"/>
<rect x="1250.8" y="1254.4" width="34.8" height="56.8" fill="#fff" stroke-width="4.2" stroke="#231f20"/>
<line x1="1248.4" y1="1295.7" x2="1288.0" y2="1295.7" stroke-width="4.0" stroke-linecap="round" stroke="#231f20"/>
<line x1="1311.3" y1="1246.4" x2="1311.3" y2="1270.2" stroke-width="4.8"/>
<line x1="1311.3" y1="1310.9" x2="1311.3" y2="1318.4" stroke-width="4.8"/>
<line x1="1301.1" y1="1246.4" x2="1321.5" y2="1246.4" stroke-width="4.8"/>
<line x1="1301.1" y1="1318.4" x2="1321.5" y2="1318.4" stroke-width="4.8"/>
<rect x="1296.5" y="1275.2" width="29.6" height="30.7" fill="#4059a8" stroke-width="5.0"/>
<line x1="1291.6" y1="1283.4" x2="1331.0" y2="1283.4" stroke-width="5.0"/>
<circle cx="1311.3" cy="1242.6" r="4.3" fill="#000" stroke="none"/>
<circle cx="1311.3" cy="1319.5" r="4.3" fill="#000" stroke="none"/>
<line x1="1389.2" y1="1268.8" x2="1389.2" y2="1270.4" stroke-width="4.0" stroke="#231f20"/>
<line x1="1389.2" y1="1311.7" x2="1389.2" y2="1321.6" stroke-width="4.0" stroke="#231f20"/>
<line x1="1379.0" y1="1268.8" x2="1399.5" y2="1268.8" stroke-width="4.0" stroke-linecap="round" stroke="#231f20"/>
<line x1="1379.0" y1="1321.6" x2="1399.5" y2="1321.6" stroke-width="4.0" stroke-linecap="round" stroke="#231f20"/>
<rect x="1371.8" y="1272.5" width="34.8" height="37.1" fill="#fff" stroke-width="4.2" stroke="#231f20"/>
<line x1="1369.4" y1="1279.1" x2="1409.0" y2="1279.1" stroke-width="4.0" stroke-linecap="round" stroke="#231f20"/>
<line x1="1432.2" y1="1282.3" x2="1432.2" y2="1312.7" stroke-width="4.8"/>
<line x1="1432.2" y1="1334.9" x2="1432.2" y2="1349.6" stroke-width="4.8"/>
<line x1="1422.0" y1="1282.3" x2="1442.4" y2="1282.3" stroke-width="4.8"/>
<line x1="1422.0" y1="1349.6" x2="1442.4" y2="1349.6" stroke-width="4.8"/>
<rect x="1417.4" y="1317.7" width="29.6" height="12.2" fill="#4059a8" stroke-width="5.0"/>
<line x1="1412.5" y1="1327.1" x2="1451.9" y2="1327.1" stroke-width="5.0"/>
<circle cx="1432.2" cy="1276.1" r="4.3" fill="#000" stroke="none"/>
<circle cx="1432.2" cy="1351.0" r="4.3" fill="#000" stroke="none"/>
<line x1="1510.5" y1="1249.3" x2="1510.5" y2="1256.6" stroke-width="4.0" stroke="#231f20"/>
<line x1="1510.5" y1="1324.8" x2="1510.5" y2="1338.6" stroke-width="4.0" stroke="#231f20"/>
<line x1="1500.2" y1="1249.3" x2="1520.8" y2="1249.3" stroke-width="4.0" stroke-linecap="round" stroke="#231f20"/>
<line x1="1500.2" y1="1338.6" x2="1520.8" y2="1338.6" stroke-width="4.0" stroke-linecap="round" stroke="#231f20"/>
<rect x="1493.1" y="1258.7" width="34.8" height="64.0" fill="#fff" stroke-width="4.2" stroke="#231f20"/>
<line x1="1490.7" y1="1280.3" x2="1530.3" y2="1280.3" stroke-width="4.0" stroke-linecap="round" stroke="#231f20"/>
<line x1="1553.4" y1="1274.3" x2="1553.4" y2="1313.8" stroke-width="4.8"/>
<line x1="1553.4" y1="1347.1" x2="1553.4" y2="1354.2" stroke-width="4.8"/>
<line x1="1543.2" y1="1274.3" x2="1563.6" y2="1274.3" stroke-width="4.8"/>
<line x1="1543.2" y1="1354.2" x2="1563.6" y2="1354.2" stroke-width="4.8"/>
<rect x="1538.6" y="1318.8" width="29.6" height="23.3" fill="#4059a8" stroke-width="5.0"/>
<line x1="1533.7" y1="1330.1" x2="1573.1" y2="1330.1" stroke-width="5.0"/>
<circle cx="1553.4" cy="1264.7" r="4.3" fill="#000" stroke="none"/>
<circle cx="1553.4" cy="1356.0" r="4.3" fill="#000" stroke="none"/>
<path d="M1027.3 1240.8 V1179.1 H1070 V1258.2" fill="none" stroke-width="4.8"/>
<text stroke="none" x="1047.8" y="1169.2" font-size="70" text-anchor="middle" font-weight="bold">*</text>
<path d="M1389.1 1246.3 V1183.3 H1431.9 V1262.4" fill="none" stroke-width="4.7"/>
<text stroke="none" x="1409.9" y="1171.4" font-size="70" text-anchor="middle" font-weight="bold">*</text>
<path d="M1508.5 1225.6 V1162.7 H1551.6 V1241.7" fill="none" stroke-width="4.7"/>
<text stroke="none" x="1527.6" y="1148.4" font-size="70" text-anchor="middle" font-weight="bold">*</text>
<line x1="986.7" y1="878.0" x2="986.7" y2="1357.7" stroke-width="5" stroke-linecap="round"/>
<line x1="977.2" y1="1355.5" x2="986.7" y2="1355.5" stroke-width="4.4" stroke-linecap="round"/>
<line x1="977.2" y1="1287.4" x2="986.7" y2="1287.4" stroke-width="4.4" stroke-linecap="round"/>
<line x1="977.2" y1="1219.2" x2="986.7" y2="1219.2" stroke-width="4.4" stroke-linecap="round"/>
<line x1="977.2" y1="1151.1" x2="986.7" y2="1151.1" stroke-width="4.4" stroke-linecap="round"/>
<line x1="977.2" y1="1083.0" x2="986.7" y2="1083.0" stroke-width="4.4" stroke-linecap="round"/>
<line x1="977.2" y1="1014.9" x2="986.7" y2="1014.9" stroke-width="4.4" stroke-linecap="round"/>
<line x1="977.2" y1="946.7" x2="986.7" y2="946.7" stroke-width="4.4" stroke-linecap="round"/>
<line x1="977.2" y1="878.6" x2="986.7" y2="878.6" stroke-width="4.4" stroke-linecap="round"/>
<line x1="985.7" y1="1355.5" x2="1595.1" y2="1355.5" stroke-width="4.2" stroke-linecap="round"/>
</g>
<g id="panelE">
<text stroke="none" x="16.0" y="1613.8" font-size="45.5"><tspan font-weight="bold">E.</tspan> DG</text>
<text stroke="none" x="81.7" y="1903.0" font-size="45.5" text-anchor="middle" transform="rotate(-90 81.7 1903.0)">OCR (pmol/min)</text>
<text stroke="none" x="179.8" y="2169.0" font-size="46" text-anchor="end">0</text>
<text stroke="none" x="179.8" y="2050.4" font-size="46" text-anchor="end">100</text>
<text stroke="none" x="179.8" y="1931.7" font-size="46" text-anchor="end">200</text>
<text stroke="none" x="179.8" y="1813.1" font-size="46" text-anchor="end">300</text>
<text stroke="none" x="179.8" y="1694.5" font-size="46" text-anchor="end">400</text>
<text stroke="none" x="201.4" y="2209.7" font-size="46" text-anchor="middle">0</text>
<text stroke="none" x="347.1" y="2209.7" font-size="46" text-anchor="middle">20</text>
<text stroke="none" x="491.6" y="2209.7" font-size="46" text-anchor="middle">40</text>
<text stroke="none" x="635.1" y="2209.7" font-size="46" text-anchor="middle">60</text>
<text stroke="none" x="780.1" y="2209.7" font-size="46" text-anchor="middle">80</text>
<text stroke="none" x="494.0" y="2263.8" font-size="46" text-anchor="middle">Time (minutes)</text>
<rect x="224.4" y="1731.6" width="20" height="20" fill="#fff" stroke-width="4.6"/>
<text stroke="none" x="258.4" y="1754.9" font-size="46">Sham</text>
<rect x="224.4" y="1775.3" width="20" height="20" fill="#4059a8" stroke-width="4.6"/>
<text stroke="none" x="257.4" y="1801.3" font-size="46">24hr FPI</text>
<line x1="202.0" y1="1678.3" x2="202.0" y2="2169.7" stroke-width="5"/>
<line x1="187.5" y1="2036.6" x2="202.0" y2="2036.6" stroke-width="4.6"/>
<line x1="187.5" y1="1917.9" x2="202.0" y2="1917.9" stroke-width="4.6"/>
<line x1="187.5" y1="1799.3" x2="202.0" y2="1799.3" stroke-width="4.6"/>
<line x1="187.5" y1="1680.7" x2="202.0" y2="1680.7" stroke-width="4.6"/>
<line x1="187.5" y1="2155.2" x2="846.8" y2="2155.2" stroke-width="5"/>
<line x1="345.8" y1="2155.2" x2="345.8" y2="2169.7" stroke-width="4.6"/>
<line x1="489.4" y1="2155.2" x2="489.4" y2="2169.7" stroke-width="4.6"/>
<line x1="633.8" y1="2155.2" x2="633.8" y2="2169.7" stroke-width="4.6"/>
<line x1="778.0" y1="2155.2" x2="778.0" y2="2169.7" stroke-width="4.6"/>
<line x1="209.3" y1="2088.2" x2="209.3" y2="2104.2" stroke-width="4"/>
<line x1="199.3" y1="2088.2" x2="219.3" y2="2088.2" stroke-width="4"/>
<line x1="199.3" y1="2104.2" x2="219.3" y2="2104.2" stroke-width="4"/>
<line x1="250.7" y1="2091.9" x2="250.7" y2="2125.9" stroke-width="4"/>
<line x1="240.7" y1="2091.9" x2="260.7" y2="2091.9" stroke-width="4"/>
<line x1="240.7" y1="2125.9" x2="260.7" y2="2125.9" stroke-width="4"/>
<line x1="291.5" y1="2094.4" x2="291.5" y2="2124.4" stroke-width="4"/>
<line x1="281.5" y1="2094.4" x2="301.5" y2="2094.4" stroke-width="4"/>
<line x1="281.5" y1="2124.4" x2="301.5" y2="2124.4" stroke-width="4"/>
<line x1="332.3" y1="2095.2" x2="332.3" y2="2126.2" stroke-width="4"/>
<line x1="322.3" y1="2095.2" x2="342.3" y2="2095.2" stroke-width="4"/>
<line x1="322.3" y1="2126.2" x2="342.3" y2="2126.2" stroke-width="4"/>
<line x1="373.1" y1="2081.1" x2="373.1" y2="2129.1" stroke-width="4"/>
<line x1="363.1" y1="2081.1" x2="383.1" y2="2081.1" stroke-width="4"/>
<line x1="363.1" y1="2129.1" x2="383.1" y2="2129.1" stroke-width="4"/>
<line x1="413.9" y1="2085.4" x2="413.9" y2="2131.4" stroke-width="4"/>
<line x1="403.9" y1="2085.4" x2="423.9" y2="2085.4" stroke-width="4"/>
<line x1="403.9" y1="2131.4" x2="423.9" y2="2131.4" stroke-width="4"/>
<line x1="454.7" y1="2092.3" x2="454.7" y2="2134.3" stroke-width="4"/>
<line x1="444.7" y1="2092.3" x2="464.7" y2="2092.3" stroke-width="4"/>
<line x1="444.7" y1="2134.3" x2="464.7" y2="2134.3" stroke-width="4"/>
<line x1="495.6" y1="2095.5" x2="495.6" y2="2135.5" stroke-width="4"/>
<line x1="485.6" y1="2095.5" x2="505.6" y2="2095.5" stroke-width="4"/>
<line x1="485.6" y1="2135.5" x2="505.6" y2="2135.5" stroke-width="4"/>
<line x1="536.0" y1="2100.1" x2="536.0" y2="2138.9" stroke-width="4"/>
<line x1="526.0" y1="2100.1" x2="546.0" y2="2100.1" stroke-width="4"/>
<line x1="526.0" y1="2138.9" x2="546.0" y2="2138.9" stroke-width="4"/>
<line x1="577.7" y1="1989.3" x2="577.7" y2="2045.3" stroke-width="4"/>
<line x1="567.7" y1="1989.3" x2="587.7" y2="1989.3" stroke-width="4"/>
<line x1="567.7" y1="2045.3" x2="587.7" y2="2045.3" stroke-width="4"/>
<line x1="618.5" y1="1996.2" x2="618.5" y2="2052.2" stroke-width="4"/>
<line x1="608.5" y1="1996.2" x2="628.5" y2="1996.2" stroke-width="4"/>
<line x1="608.5" y1="2052.2" x2="628.5" y2="2052.2" stroke-width="4"/>
<line x1="659.3" y1="1997.5" x2="659.3" y2="2053.5" stroke-width="4"/>
<line x1="649.3" y1="1997.5" x2="669.3" y2="1997.5" stroke-width="4"/>
<line x1="649.3" y1="2053.5" x2="669.3" y2="2053.5" stroke-width="4"/>
<line x1="700.7" y1="2099.4" x2="700.7" y2="2139.4" stroke-width="4"/>
<line x1="690.7" y1="2099.4" x2="710.7" y2="2099.4" stroke-width="4"/>
<line x1="690.7" y1="2139.4" x2="710.7" y2="2139.4" stroke-width="4"/>
<line x1="742.2" y1="2134.0" x2="742.2" y2="2146.0" stroke-width="4"/>
<line x1="732.2" y1="2134.0" x2="752.2" y2="2134.0" stroke-width="4"/>
<line x1="732.2" y1="2146.0" x2="752.2" y2="2146.0" stroke-width="4"/>
<line x1="782.3" y1="2141.0" x2="782.3" y2="2151.0" stroke-width="4"/>
<line x1="772.3" y1="2141.0" x2="792.3" y2="2141.0" stroke-width="4"/>
<line x1="772.3" y1="2151.0" x2="792.3" y2="2151.0" stroke-width="4"/>
<line x1="209.3" y1="2029.1" x2="209.3" y2="2057.1" stroke-width="4"/>
<line x1="199.3" y1="2029.1" x2="219.3" y2="2029.1" stroke-width="4"/>
<line x1="199.3" y1="2057.1" x2="219.3" y2="2057.1" stroke-width="4"/>
<line x1="250.7" y1="2049.1" x2="250.7" y2="2065.1" stroke-width="4"/>
<line x1="240.7" y1="2049.1" x2="260.7" y2="2049.1" stroke-width="4"/>
<line x1="240.7" y1="2065.1" x2="260.7" y2="2065.1" stroke-width="4"/>
<line x1="291.5" y1="2052.3" x2="291.5" y2="2077.3" stroke-width="4"/>
<line x1="281.5" y1="2052.3" x2="301.5" y2="2052.3" stroke-width="4"/>
<line x1="281.5" y1="2077.3" x2="301.5" y2="2077.3" stroke-width="4"/>
<line x1="332.3" y1="2057.1" x2="332.3" y2="2073.1" stroke-width="4"/>
<line x1="322.3" y1="2057.1" x2="342.3" y2="2057.1" stroke-width="4"/>
<line x1="322.3" y1="2073.1" x2="342.3" y2="2073.1" stroke-width="4"/>
<line x1="373.1" y1="2072.9" x2="373.1" y2="2088.9" stroke-width="4"/>
<line x1="363.1" y1="2072.9" x2="383.1" y2="2072.9" stroke-width="4"/>
<line x1="363.1" y1="2088.9" x2="383.1" y2="2088.9" stroke-width="4"/>
<line x1="413.9" y1="2070.9" x2="413.9" y2="2090.9" stroke-width="4"/>
<line x1="403.9" y1="2070.9" x2="423.9" y2="2070.9" stroke-width="4"/>
<line x1="403.9" y1="2090.9" x2="423.9" y2="2090.9" stroke-width="4"/>
<line x1="454.7" y1="2083.1" x2="454.7" y2="2099.1" stroke-width="4"/>
<line x1="444.7" y1="2083.1" x2="464.7" y2="2083.1" stroke-width="4"/>
<line x1="444.7" y1="2099.1" x2="464.7" y2="2099.1" stroke-width="4"/>
<line x1="495.6" y1="2082.0" x2="495.6" y2="2098.0" stroke-width="4"/>
<line x1="485.6" y1="2082.0" x2="505.6" y2="2082.0" stroke-width="4"/>
<line x1="485.6" y1="2098.0" x2="505.6" y2="2098.0" stroke-width="4"/>
<line x1="536.0" y1="2098.4" x2="536.0" y2="2110.4" stroke-width="4"/>
<line x1="526.0" y1="2098.4" x2="546.0" y2="2098.4" stroke-width="4"/>
<line x1="526.0" y1="2110.4" x2="546.0" y2="2110.4" stroke-width="4"/>
<line x1="577.7" y1="1854.6" x2="577.7" y2="1900.6" stroke-width="4"/>
<line x1="567.7" y1="1854.6" x2="587.7" y2="1854.6" stroke-width="4"/>
<line x1="567.7" y1="1900.6" x2="587.7" y2="1900.6" stroke-width="4"/>
<line x1="618.5" y1="1883.0" x2="618.5" y2="1919.0" stroke-width="4"/>
<line x1="608.5" y1="1883.0" x2="628.5" y2="1883.0" stroke-width="4"/>
<line x1="608.5" y1="1919.0" x2="628.5" y2="1919.0" stroke-width="4"/>
<line x1="659.3" y1="1939.2" x2="659.3" y2="1951.2" stroke-width="4"/>
<line x1="649.3" y1="1939.2" x2="669.3" y2="1939.2" stroke-width="4"/>
<line x1="649.3" y1="1951.2" x2="669.3" y2="1951.2" stroke-width="4"/>
<line x1="700.7" y1="2111.4" x2="700.7" y2="2127.4" stroke-width="4"/>
<line x1="690.7" y1="2111.4" x2="710.7" y2="2111.4" stroke-width="4"/>
<line x1="690.7" y1="2127.4" x2="710.7" y2="2127.4" stroke-width="4"/>
<line x1="742.2" y1="2137.9" x2="742.2" y2="2147.9" stroke-width="4"/>
<line x1="732.2" y1="2137.9" x2="752.2" y2="2137.9" stroke-width="4"/>
<line x1="732.2" y1="2147.9" x2="752.2" y2="2147.9" stroke-width="4"/>
<line x1="782.3" y1="2142.4" x2="782.3" y2="2152.4" stroke-width="4"/>
<line x1="772.3" y1="2142.4" x2="792.3" y2="2142.4" stroke-width="4"/>
<line x1="772.3" y1="2152.4" x2="792.3" y2="2152.4" stroke-width="4"/>
<polyline points="209.3,2096.2 250.7,2108.9 291.5,2109.4 332.3,2110.7 373.1,2105.1 413.9,2108.4 454.7,2113.3 495.6,2115.5 536.0,2119.5 577.7,2017.3 618.5,2024.2 659.3,2025.5 700.7,2119.4 742.2,2140.0 782.3,2146.0" fill="none" stroke-width="4" stroke-linejoin="round"/>
<polyline points="209.3,2043.1 250.7,2057.1 291.5,2064.8 332.3,2065.1 373.1,2080.9 413.9,2080.9 454.7,2091.1 495.6,2090.0 536.0,2104.4 577.7,1877.6 618.5,1901.0 659.3,1945.2 700.7,2119.4 742.2,2142.9 782.3,2147.4" fill="none" stroke-width="4" stroke-linejoin="round"/>
<rect x="199.3" y="2086.2" width="20" height="20" fill="#fff" stroke-width="4.6"/>
<rect x="240.7" y="2098.9" width="20" height="20" fill="#fff" stroke-width="4.6"/>
<rect x="281.5" y="2099.4" width="20" height="20" fill="#fff" stroke-width="4.6"/>
<rect x="322.3" y="2100.7" width="20" height="20" fill="#fff" stroke-width="4.6"/>
<rect x="363.1" y="2095.1" width="20" height="20" fill="#fff" stroke-width="4.6"/>
<rect x="403.9" y="2098.4" width="20" height="20" fill="#fff" stroke-width="4.6"/>
<rect x="444.7" y="2103.3" width="20" height="20" fill="#fff" stroke-width="4.6"/>
<rect x="485.6" y="2105.5" width="20" height="20" fill="#fff" stroke-width="4.6"/>
<rect x="526.0" y="2109.5" width="20" height="20" fill="#fff" stroke-width="4.6"/>
<rect x="567.7" y="2007.3" width="20" height="20" fill="#fff" stroke-width="4.6"/>
<rect x="608.5" y="2014.2" width="20" height="20" fill="#fff" stroke-width="4.6"/>
<rect x="649.3" y="2015.5" width="20" height="20" fill="#fff" stroke-width="4.6"/>
<rect x="690.7" y="2109.4" width="20" height="20" fill="#fff" stroke-width="4.6"/>
<rect x="732.2" y="2130.0" width="20" height="20" fill="#fff" stroke-width="4.6"/>
<rect x="772.3" y="2136.0" width="20" height="20" fill="#fff" stroke-width="4.6"/>
<rect x="199.3" y="2033.1" width="20" height="20" fill="#4059a8" stroke-width="4.6"/>
<rect x="240.7" y="2047.1" width="20" height="20" fill="#4059a8" stroke-width="4.6"/>
<rect x="283.2" y="2056.5" width="16.6" height="16.6" fill="#4059a8" stroke-width="8"/>
<rect x="322.3" y="2055.1" width="20" height="20" fill="#4059a8" stroke-width="4.6"/>
<rect x="363.1" y="2070.9" width="20" height="20" fill="#4059a8" stroke-width="4.6"/>
<rect x="405.6" y="2072.6" width="16.6" height="16.6" fill="#4059a8" stroke-width="8"/>
<rect x="444.7" y="2081.1" width="20" height="20" fill="#4059a8" stroke-width="4.6"/>
<rect x="485.6" y="2080.0" width="20" height="20" fill="#4059a8" stroke-width="4.6"/>
<rect x="526.0" y="2094.4" width="20" height="20" fill="#4059a8" stroke-width="4.6"/>
<rect x="567.7" y="1867.6" width="20" height="20" fill="#4059a8" stroke-width="4.6"/>
<rect x="608.5" y="1891.0" width="20" height="20" fill="#4059a8" stroke-width="4.6"/>
<rect x="651.0" y="1936.9" width="16.6" height="16.6" fill="#4059a8" stroke-width="8"/>
<rect x="692.4" y="2111.1" width="16.6" height="16.6" fill="#4059a8" stroke-width="8"/>
<rect x="732.2" y="2132.9" width="20" height="20" fill="#4059a8" stroke-width="4.6"/>
<rect x="772.3" y="2137.4" width="20" height="20" fill="#4059a8" stroke-width="4.6"/>
<line x1="373.1" y1="2081.1" x2="373.1" y2="2093.1" stroke-width="4"/>
<line x1="363.1" y1="2081.1" x2="383.1" y2="2081.1" stroke-width="4"/>
<line x1="413.9" y1="2085.4" x2="413.9" y2="2096.4" stroke-width="4"/>
<line x1="403.9" y1="2085.4" x2="423.9" y2="2085.4" stroke-width="4"/>
<line x1="454.7" y1="2092.3" x2="454.7" y2="2101.3" stroke-width="4"/>
<line x1="444.7" y1="2092.3" x2="464.7" y2="2092.3" stroke-width="4"/>
<line x1="495.6" y1="2095.5" x2="495.6" y2="2103.5" stroke-width="4"/>
<line x1="485.6" y1="2095.5" x2="505.6" y2="2095.5" stroke-width="4"/>
</g>
<g id="panelF">
<text stroke="none" x="843.0" y="1614.0" font-size="45.5" font-weight="bold" style="font-kerning:none">F.</text>
<text stroke="none" x="879.7" y="1906.0" font-size="45.6" text-anchor="middle" transform="rotate(-90 879.7 1906.0)">Percent Sham</text>
<text stroke="none" x="975.4" y="2171.4" font-size="46" text-anchor="end">0</text>
<text stroke="none" x="975.4" y="2102.8" font-size="46" text-anchor="end">100</text>
<text stroke="none" x="975.4" y="2034.3" font-size="46" text-anchor="end">200</text>
<text stroke="none" x="975.4" y="1965.8" font-size="46" text-anchor="end">300</text>
<text stroke="none" x="975.4" y="1897.2" font-size="46" text-anchor="end">400</text>
<text stroke="none" x="975.4" y="1828.7" font-size="46" text-anchor="end">500</text>
<text stroke="none" x="975.4" y="1760.1" font-size="46" text-anchor="end">600</text>
<text stroke="none" x="975.4" y="1691.6" font-size="46" text-anchor="end">700</text>
<text stroke="none" x="1068.2" y="2272.2" font-size="41" class="lab" transform="rotate(-90 1068.2 2272.2)" textLength="97.0" lengthAdjust="spacing">Basal</text>
<text stroke="none" x="1186.8" y="2373.0" font-size="41" class="lab" transform="rotate(-90 1186.8 2373.0)" textLength="199.8" lengthAdjust="spacing">ATP-linked</text>
<text stroke="none" x="1314.2" y="2343.2" font-size="41" class="lab" transform="rotate(-90 1314.2 2343.2)" textLength="171.4" lengthAdjust="spacing">Coup eff.</text>
<text stroke="none" x="1436.2" y="2336.6" font-size="41" class="lab" transform="rotate(-90 1436.2 2336.6)" textLength="161.0" lengthAdjust="spacing">Maximal</text>
<text stroke="none" x="1543.2" y="2366.2" font-size="41" class="lab" transform="rotate(-90 1543.2 2366.2)" textLength="193.0" lengthAdjust="spacing">Spare Cap</text>
<rect x="1318.1" y="1743.4" width="39.2" height="23.4" rx="1.5" fill="#fff" stroke-width="4.8"/>
<text stroke="none" x="1365.5" y="1765.6" font-size="46">Sham</text>
<rect x="1319.9" y="1788.7" width="35.6" height="18.6" fill="#4059a8" stroke-width="4.8"/>
<text stroke="none" x="1368.0" y="1813.0" font-size="46">24hr FPI</text>
<line x1="1027.9" y1="2069.5" x2="1027.9" y2="2072.1" stroke-width="4.6"/>
<line x1="1027.9" y1="2109.1" x2="1027.9" y2="2112.1" stroke-width="4.6"/>
<line x1="1018.0" y1="2069.5" x2="1037.9" y2="2069.5" stroke-width="4.6" stroke-linecap="round"/>
<line x1="1018.0" y1="2112.1" x2="1037.9" y2="2112.1" stroke-width="4.6" stroke-linecap="round"/>
<rect x="1010.8" y="2074.5" width="34.2" height="32.2" fill="#fff" stroke-width="4.8"/>
<line x1="1008.1" y1="2090.5" x2="1047.7" y2="2090.5" stroke-width="4.6" stroke-linecap="round"/>
<line x1="1070.5" y1="1861.1" x2="1070.5" y2="1926.7" stroke-width="4.8"/>
<line x1="1070.5" y1="2072.6" x2="1070.5" y2="2105.3" stroke-width="4.8"/>
<line x1="1060.3" y1="1861.1" x2="1080.7" y2="1861.1" stroke-width="4.8"/>
<line x1="1060.3" y1="2105.3" x2="1080.7" y2="2105.3" stroke-width="4.8"/>
<rect x="1055.7" y="1931.7" width="29.6" height="135.9" fill="#4059a8" stroke-width="5.0"/>
<line x1="1050.8" y1="2032.6" x2="1090.2" y2="2032.6" stroke-width="5.0"/>
<circle cx="1070.5" cy="1821.6" r="4.3" fill="#000" stroke="none"/>
<circle cx="1070.5" cy="2110.9" r="4.3" fill="#000" stroke="none"/>
<line x1="1148.8" y1="2060.1" x2="1148.8" y2="2071.6" stroke-width="4.6"/>
<line x1="1148.8" y1="2109.1" x2="1148.8" y2="2118.8" stroke-width="4.6"/>
<line x1="1138.8" y1="2060.1" x2="1158.8" y2="2060.1" stroke-width="4.6" stroke-linecap="round"/>
<line x1="1138.8" y1="2118.8" x2="1158.8" y2="2118.8" stroke-width="4.6" stroke-linecap="round"/>
<rect x="1131.7" y="2074.0" width="34.2" height="32.7" fill="#fff" stroke-width="4.8"/>
<line x1="1129.0" y1="2090.5" x2="1168.6" y2="2090.5" stroke-width="4.6" stroke-linecap="round"/>
<line x1="1191.6" y1="1782.6" x2="1191.6" y2="1880.3" stroke-width="4.8"/>
<line x1="1191.6" y1="2052.4" x2="1191.6" y2="2121.3" stroke-width="4.8"/>
<line x1="1181.4" y1="1782.6" x2="1201.8" y2="1782.6" stroke-width="4.8"/>
<line x1="1181.4" y1="2121.3" x2="1201.8" y2="2121.3" stroke-width="4.8"/>
<rect x="1176.8" y="1885.3" width="29.6" height="162.1" fill="#4059a8" stroke-width="5.0"/>
<line x1="1171.9" y1="1992.5" x2="1211.3" y2="1992.5" stroke-width="5.0"/>
<circle cx="1191.6" cy="1716.9" r="4.3" fill="#000" stroke="none"/>
<circle cx="1191.6" cy="2126.9" r="4.3" fill="#000" stroke="none"/>
<line x1="1269.4" y1="2065.7" x2="1269.4" y2="2073.6" stroke-width="4.6"/>
<line x1="1269.4" y1="2109.4" x2="1269.4" y2="2131.0" stroke-width="4.6"/>
<line x1="1259.5" y1="2065.7" x2="1279.4" y2="2065.7" stroke-width="4.6" stroke-linecap="round"/>
<line x1="1259.5" y1="2131.0" x2="1279.4" y2="2131.0" stroke-width="4.6" stroke-linecap="round"/>
<rect x="1252.3" y="2076.0" width="34.2" height="31.0" fill="#fff" stroke-width="4.8"/>
<line x1="1249.6" y1="2085.0" x2="1289.2" y2="2085.0" stroke-width="4.6" stroke-linecap="round"/>
<line x1="1312.0" y1="2034.8" x2="1312.0" y2="2065.7" stroke-width="4.8"/>
<line x1="1312.0" y1="2110.5" x2="1312.0" y2="2127.6" stroke-width="4.8"/>
<line x1="1301.8" y1="2034.8" x2="1322.2" y2="2034.8" stroke-width="4.8"/>
<line x1="1301.8" y1="2127.6" x2="1322.2" y2="2127.6" stroke-width="4.8"/>
<rect x="1297.2" y="2070.7" width="29.6" height="34.8" fill="#4059a8" stroke-width="5.0"/>
<line x1="1292.3" y1="2076.8" x2="1331.7" y2="2076.8" stroke-width="5.0"/>
<circle cx="1312.0" cy="2021.6" r="4.3" fill="#000" stroke="none"/>
<circle cx="1312.0" cy="2129.0" r="4.3" fill="#000" stroke="none"/>
<line x1="1389.9" y1="2055.2" x2="1389.9" y2="2069.4" stroke-width="4.6"/>
<line x1="1389.9" y1="2112.4" x2="1389.9" y2="2124.1" stroke-width="4.6"/>
<line x1="1380.0" y1="2055.2" x2="1399.9" y2="2055.2" stroke-width="4.6" stroke-linecap="round"/>
<line x1="1380.0" y1="2124.1" x2="1399.9" y2="2124.1" stroke-width="4.6" stroke-linecap="round"/>
<rect x="1372.8" y="2071.8" width="34.2" height="38.2" fill="#fff" stroke-width="4.8"/>
<line x1="1370.1" y1="2090.5" x2="1409.7" y2="2090.5" stroke-width="4.6" stroke-linecap="round"/>
<line x1="1432.7" y1="1930.0" x2="1432.7" y2="2019.6" stroke-width="4.8"/>
<line x1="1432.7" y1="2074.4" x2="1432.7" y2="2102.5" stroke-width="4.8"/>
<line x1="1422.5" y1="1930.0" x2="1442.9" y2="1930.0" stroke-width="4.8"/>
<line x1="1422.5" y1="2102.5" x2="1442.9" y2="2102.5" stroke-width="4.8"/>
<rect x="1417.9" y="2024.6" width="29.6" height="44.8" fill="#4059a8" stroke-width="5.0"/>
<line x1="1413.0" y1="2052.7" x2="1452.4" y2="2052.7" stroke-width="5.0"/>
<circle cx="1432.7" cy="1912.5" r="4.3" fill="#000" stroke="none"/>
<circle cx="1432.7" cy="2113.7" r="4.3" fill="#000" stroke="none"/>
<line x1="1510.6" y1="2049.5" x2="1510.6" y2="2067.6" stroke-width="4.6"/>
<line x1="1510.6" y1="2112.9" x2="1510.6" y2="2131.1" stroke-width="4.6"/>
<line x1="1500.6" y1="2049.5" x2="1520.5" y2="2049.5" stroke-width="4.6" stroke-linecap="round"/>
<line x1="1500.6" y1="2131.1" x2="1520.5" y2="2131.1" stroke-width="4.6" stroke-linecap="round"/>
<rect x="1493.5" y="2070.0" width="34.2" height="40.5" fill="#fff" stroke-width="4.8"/>
<line x1="1490.8" y1="2090.5" x2="1530.4" y2="2090.5" stroke-width="4.6" stroke-linecap="round"/>
<line x1="1553.7" y1="1962.8" x2="1553.7" y2="2033.3" stroke-width="4.8"/>
<line x1="1553.7" y1="2083.1" x2="1553.7" y2="2115.4" stroke-width="4.8"/>
<line x1="1543.5" y1="1962.8" x2="1563.9" y2="1962.8" stroke-width="4.8"/>
<line x1="1543.5" y1="2115.4" x2="1563.9" y2="2115.4" stroke-width="4.8"/>
<rect x="1538.9" y="2038.3" width="29.6" height="39.8" fill="#4059a8" stroke-width="5.0"/>
<line x1="1534.0" y1="2063.1" x2="1573.4" y2="2063.1" stroke-width="5.0"/>
<circle cx="1553.7" cy="1944.9" r="4.3" fill="#000" stroke="none"/>
<circle cx="1553.7" cy="2118.7" r="4.3" fill="#000" stroke="none"/>
<path d="M1026.6 2049.1 V1793.2 Q1026.6 1791.2 1028.6 1791.2 H1067.5 Q1069.5 1791.2 1069.5 1793.2 V1803.6" fill="none" stroke-width="4.3" stroke="#231f20" stroke-linejoin="round"/>
<text stroke="none" x="1049.4" y="1777.9" font-size="70" text-anchor="middle" font-weight="bold">*</text>
<path d="M1145.7 2040.4 V1688.4 Q1145.7 1686.4 1147.7 1686.4 H1190.5 Q1192.5 1686.4 1192.5 1688.4 V1698.7" fill="none" stroke-width="4.3" stroke="#231f20" stroke-linejoin="round"/>
<text stroke="none" x="1171.3" y="1674.5" font-size="70" text-anchor="middle" font-weight="bold">*</text>
<line x1="988.7" y1="1678.9" x2="988.7" y2="2161.5" stroke-width="5" stroke-linecap="round"/>
<line x1="979.2" y1="2159.3" x2="988.7" y2="2159.3" stroke-width="4.4" stroke-linecap="round"/>
<line x1="979.2" y1="2090.8" x2="988.7" y2="2090.8" stroke-width="4.4" stroke-linecap="round"/>
<line x1="979.2" y1="2022.2" x2="988.7" y2="2022.2" stroke-width="4.4" stroke-linecap="round"/>
<line x1="979.2" y1="1953.7" x2="988.7" y2="1953.7" stroke-width="4.4" stroke-linecap="round"/>
<line x1="979.2" y1="1885.1" x2="988.7" y2="1885.1" stroke-width="4.4" stroke-linecap="round"/>
<line x1="979.2" y1="1816.6" x2="988.7" y2="1816.6" stroke-width="4.4" stroke-linecap="round"/>
<line x1="979.2" y1="1748.0" x2="988.7" y2="1748.0" stroke-width="4.4" stroke-linecap="round"/>
<line x1="979.2" y1="1679.5" x2="988.7" y2="1679.5" stroke-width="4.4" stroke-linecap="round"/>
<line x1="987.7" y1="2159.3" x2="1595.0" y2="2159.3" stroke-width="5" stroke-linecap="round"/>
</g>
</g>
</svg>
</body>
</html>
